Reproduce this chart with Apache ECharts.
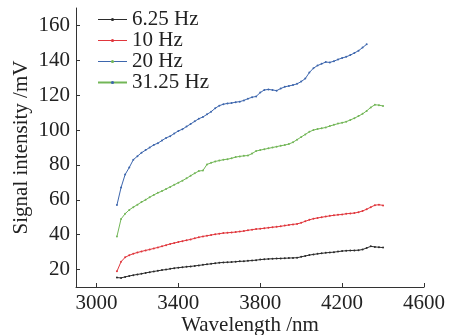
<!DOCTYPE html>
<html>
<head>
<meta charset="utf-8">
<script src="https://cdn.jsdelivr.net/npm/echarts@6/dist/echarts.min.js"></script>
<style>
  html, body { margin: 0; padding: 0; background: #fff; }
  #chart { width: 449px; height: 335px; }
</style>
</head>
<body>
<div id="chart"></div>
<script>
const wavelengths = [
  3100, 3120, 3140, 3160, 3180, 3200, 3220, 3240, 3260, 3280,
  3300, 3320, 3340, 3360, 3380, 3400, 3420, 3440, 3460, 3480,
  3500, 3520, 3540, 3560, 3580, 3600, 3620, 3640, 3660, 3680,
  3700, 3720, 3740, 3760, 3780, 3800, 3820, 3840, 3860, 3880,
  3900, 3920, 3940, 3960, 3980, 4000, 4020, 4040, 4060, 4080,
  4100, 4120, 4140, 4160, 4180, 4200, 4220, 4240, 4260, 4280,
  4300, 4320, 4340, 4360, 4380, 4400
]

const hz625 = [
  15.4, 15.2, 15.8, 16.3, 16.8, 17.2, 17.6, 18.1, 18.5, 18.9,
  19.3, 19.7, 20.0, 20.4, 20.8, 21.1, 21.3, 21.6, 21.8, 22.1,
  22.4, 22.7, 23.0, 23.3, 23.6, 23.9, 24.1, 24.2, 24.3, 24.5,
  24.7, 24.8, 25.0, 25.2, 25.4, 25.7, 25.9, 26.1, 26.2, 26.3,
  26.4, 26.5, 26.6, 26.7, 26.8, 27.3, 27.8, 28.3, 28.7, 29.0,
  29.3, 29.6, 29.8, 30.0, 30.3, 30.6, 30.8, 30.9, 31.0, 31.1,
  31.5, 32.4, 33.3, 33.0, 32.8, 32.6
]

const hz10 = [
  19.0, 24.5, 27.0, 28.2, 29.1, 29.8, 30.4, 31.0, 31.5, 32.1,
  32.7, 33.3, 34.0, 34.7, 35.2, 35.8, 36.3, 36.8, 37.3, 37.9,
  38.5, 39.0, 39.4, 39.8, 40.2, 40.6, 40.9, 41.1, 41.3, 41.5,
  41.8, 42.1, 42.5, 42.9, 43.2, 43.4, 43.7, 44.0, 44.3, 44.5,
  44.8, 45.2, 45.6, 45.9, 46.2, 46.8, 47.7, 48.5, 49.2, 49.6,
  50.0, 50.4, 50.8, 51.1, 51.4, 51.6, 52.0, 52.2, 52.4, 52.9,
  53.6, 54.6, 55.8, 56.9, 57.2, 56.8
]

// 20 Hz stops at 4320 nm
const hz20 = [
  57.0, 67.0, 74.5, 78.5, 83.0, 85.0, 87.0, 88.5, 90.0, 91.5,
  92.5, 94.0, 95.5, 96.5, 98.0, 99.5, 100.5, 102.0, 103.5, 105.0,
  106.5, 107.5, 109.0, 110.5, 112.5, 114.0, 114.8, 115.3, 115.5, 116.0,
  116.3, 117.0, 118.0, 118.8, 119.3, 121.5, 123.0, 123.3, 123.0, 122.6,
  123.8, 124.8, 125.3, 125.8, 126.5, 127.8, 129.5, 133.0, 135.5, 137.0,
  138.0, 139.0, 138.8, 139.5, 140.5, 141.3, 142.0, 143.0, 144.2, 145.5,
  147.3, 149.2
]

const hz3125 = [
  39.0, 49.0, 52.0, 54.2, 55.8, 57.2, 58.7, 60.0, 61.5, 62.8,
  64.0, 65.0, 66.2, 67.4, 68.6, 69.8, 71.0, 72.3, 73.8, 75.2,
  76.5, 76.8, 80.3, 81.2, 82.0, 82.5, 83.0, 83.3, 83.8, 84.5,
  84.9, 85.2, 85.4, 86.5, 88.0, 88.5, 89.0, 89.5, 90.0, 90.5,
  91.0, 91.4, 92.0, 93.0, 94.5, 96.0, 97.5, 99.0, 100.0, 100.6,
  101.0, 101.5, 102.3, 103.0, 103.7, 104.2, 104.8, 105.8, 106.8, 108.0,
  109.3, 111.0, 113.0, 114.5, 114.3, 113.8
]

const xTicks = [3000, 3400, 3800, 4200, 4600]
const yTicks = [20, 40, 60, 80, 100, 120, 140, 160]

const colors = {
  black: "#2b2b2b",
  red: "#e0363c",
  blue: "#3d66ad",
  green: "#72b657"
}

const font = "Liberation Serif"
const fontSize = 21

function pairs(ys) {
  return ys.map((y, i) => [wavelengths[i], y])
}

function lineSeries(name, ys, color) {
  return {
    name,
    type: "line",
    data: pairs(ys),
    symbol: "circle",
    symbolSize: 2,
    showSymbol: true,
    color,
    lineStyle: { color, width: 1 },
    itemStyle: { color },
    emphasis: { disabled: true },
    animation: false
  }
}

const chart = echarts.init(document.getElementById("chart"), null, { renderer: "canvas" })

chart.setOption({
  backgroundColor: "#fff",
  animation: false,
  textStyle: { fontFamily: font },
  grid: { left: 76, right: 25, top: 8, bottom: 48, outerBoundsMode: "none", containLabel: false },
  legend: {
    orient: "vertical",
    left: 92,
    top: 4,
    itemWidth: 29,
    itemHeight: 4,
    itemGap: 0,
    textStyle: { fontFamily: font, fontSize: fontSize, color: "#222", lineHeight: 18 },
    data: [
      { name: "6.25 Hz", itemStyle: { color: colors.black }, lineStyle: { color: colors.black, width: 1 } },
      { name: "10 Hz", itemStyle: { color: colors.red }, lineStyle: { color: colors.red, width: 1 } },
      { name: "20 Hz", itemStyle: { color: colors.green }, lineStyle: { color: colors.blue, width: 1 } },
      { name: "31.25 Hz", itemStyle: { color: colors.blue }, lineStyle: { color: colors.green, width: 2 } }
    ]
  },
  xAxis: {
    type: "value",
    min: 2900,
    max: 4600,
    name: "Wavelength /nm",
    nameLocation: "middle",
    nameGap: 28,
    nameMoveOverlap: false,
    nameTextStyle: { fontFamily: font, fontSize: fontSize, color: "#222" },
    axisLine: { lineStyle: { color: "#333", width: 1 } },
    axisTick: { inside: true, length: 4, customValues: xTicks, lineStyle: { color: "#333" } },
    axisLabel: {
      customValues: xTicks, margin: 6, fontFamily: font, fontSize: fontSize, color: "#222",
      formatter: v => String(v)
    },
    splitLine: { show: false }
  },
  yAxis: {
    type: "value",
    min: 10,
    max: 170,
    name: "Signal intensity /mV",
    nameLocation: "middle",
    nameGap: 44,
    nameMoveOverlap: false,
    nameTextStyle: { fontFamily: font, fontSize: fontSize, color: "#222" },
    axisLine: { show: true, lineStyle: { color: "#333", width: 1 } },
    axisTick: { show: true, inside: true, length: 4, customValues: yTicks, lineStyle: { color: "#333" } },
    axisLabel: {
      customValues: yTicks, margin: 6, fontFamily: font, fontSize: fontSize, color: "#222",
      formatter: v => String(v)
    },
    splitLine: { show: false }
  },
  series: [
    lineSeries("6.25 Hz", hz625, colors.black),
    lineSeries("10 Hz", hz10, colors.red),
    lineSeries("20 Hz", hz20, colors.blue),
    lineSeries("31.25 Hz", hz3125, colors.green)
  ]
})
</script>
</body>
</html>
